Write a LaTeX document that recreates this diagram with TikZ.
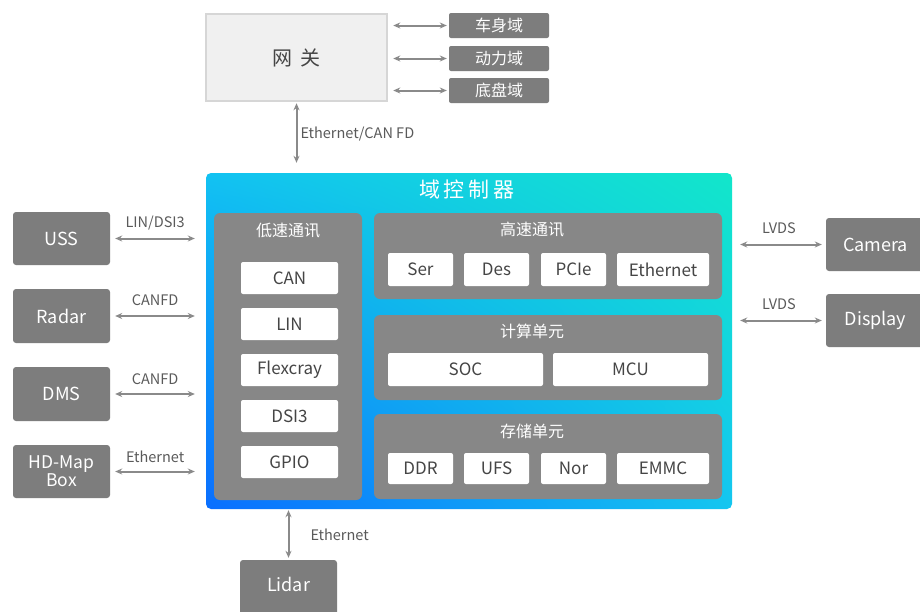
\documentclass[tikz,border=0pt]{standalone}
\usepackage{fontspec}
\setmainfont{Noto Sans CJK SC}
\usetikzlibrary{arrows.meta,shadings}
\definecolor{boxgray}{HTML}{7D7D7D}
\definecolor{panelgray}{HTML}{878787}
\definecolor{arrowgray}{HTML}{8A8A8A}
\definecolor{labelgray}{HTML}{5A5A5A}
\definecolor{textdark}{HTML}{454545}
\definecolor{gwfill}{HTML}{F0F0F0}
\definecolor{gwline}{HTML}{D6D6D6}
\definecolor{cUL}{HTML}{12C2F2}
\definecolor{cUR}{HTML}{12E6CA}
\definecolor{cLL}{HTML}{0A6EFF}
\definecolor{cLR}{HTML}{14C6F0}
\begin{document}
\begin{tikzpicture}[x=1pt,y=-1pt,
  obox/.style={fill=boxgray, rounded corners=3pt, text=white, font=\fontsize{18}{19}\selectfont, inner sep=0pt, align=center},
  dbox/.style={fill=boxgray, rounded corners=2pt, text=white, font=\fontsize{16}{18}\selectfont, inner sep=0pt, minimum width=100pt, minimum height=25pt},
  panel/.style={fill=panelgray, rounded corners=6pt, inner sep=0pt},
  wbox/.style={fill=white, rounded corners=2pt, text=textdark, font=\fontsize{17}{19}\selectfont, inner sep=0pt},
  ptitle/.style={text=white, font=\fontsize{16}{18}\selectfont, inner sep=0pt},
  conn/.style={draw=arrowgray, line width=2pt, {Stealth[length=7pt,width=6pt]}-{Stealth[length=7pt,width=6pt]}},
  lbl/.style={text=labelgray, font=\fontsize{14.5}{16}\selectfont, inner sep=1pt},
]
\clip (0,0) rectangle (920,611);
\fill[white] (0,0) rectangle (920,611);

% gateway and domains
\node[fill=gwfill, draw=gwline, line width=2.5pt, minimum width=181pt, minimum height=87pt,
      font=\fontsize{20}{22}\selectfont, text=textdark, inner sep=0pt] (gw) at (296.5,57.5) {网\hspace{8pt}关};
\node[dbox] (d1) at (499,25.5) {车身域};
\node[dbox] (d2) at (499,58.5) {动力域};
\node[dbox] (d3) at (499,90.5) {底盘域};

% domain controller
\node[rounded corners=5pt, shade, upper left=cUL, upper right=cUR, lower left=cLL, lower right=cLR,
      minimum width=526pt, minimum height=336pt, inner sep=0pt] (ctrl) at (469,341) {};
\node[ptitle, font=\fontsize{21}{24}\selectfont] (ctitle) at (467,190) {域\hspace{4pt}控\hspace{4pt}制\hspace{4pt}器};

% low speed panel
\node[panel, minimum width=148pt, minimum height=287pt] (low) at (288,356.5) {};
\node[ptitle] (lowt) at (288,231) {低速通讯};
\node[wbox, minimum width=97pt, minimum height=32pt] (can) at (289.5,278) {CAN};
\node[wbox, minimum width=97pt, minimum height=32pt] (lin) at (289.5,324) {LIN};
\node[wbox, minimum width=97pt, minimum height=32pt] (flex) at (289.5,370) {Flexcray};
\node[wbox, minimum width=97pt, minimum height=32pt] (dsi) at (289.5,416) {DSI3};
\node[wbox, minimum width=97pt, minimum height=32pt] (gpio) at (289.5,462) {GPIO};

% high speed panel
\node[panel, minimum width=348pt, minimum height=86pt] (high) at (548,256) {};
\node[ptitle] (hight) at (532,230) {高速通讯};
\node[wbox, minimum width=65pt, minimum height=33pt] (ser) at (420.5,269.5) {Ser};
\node[wbox, minimum width=65pt, minimum height=33pt] (des) at (496.5,269.5) {Des};
\node[wbox, minimum width=65pt, minimum height=33pt] (pcie) at (573.5,269.5) {PCIe};
\node[wbox, minimum width=92pt, minimum height=33pt] (eth) at (663,269.5) {Ethernet};

% compute panel
\node[panel, minimum width=348pt, minimum height=85pt] (comp) at (548,357.5) {};
\node[ptitle] (compt) at (532,331) {计算单元};
\node[wbox, minimum width=155pt, minimum height=33pt] (soc) at (465.5,369.5) {SOC};
\node[wbox, minimum width=155pt, minimum height=33pt] (mcu) at (630.5,369.5) {MCU};

% storage panel
\node[panel, minimum width=348pt, minimum height=85pt] (stor) at (548,456.5) {};
\node[ptitle] (stort) at (532,431) {存储单元};
\node[wbox, minimum width=65pt, minimum height=31pt] (ddr) at (420.5,468.5) {DDR};
\node[wbox, minimum width=65pt, minimum height=31pt] (ufs) at (496.5,468.5) {UFS};
\node[wbox, minimum width=65pt, minimum height=31pt] (nor) at (573.5,468.5) {Nor};
\node[wbox, minimum width=92pt, minimum height=31pt] (emmc) at (663,468.5) {EMMC};

% left peripherals
\node[obox, minimum width=97pt, minimum height=53pt] (uss) at (61.5,238.5) {USS};
\node[obox, minimum width=97pt, minimum height=54pt] (radar) at (61.5,316) {Radar};
\node[obox, minimum width=97pt, minimum height=54pt] (dms) at (61.5,394) {DMS};
\node[obox, minimum width=97pt, minimum height=53pt, font=\fontsize{17.5}{18}\selectfont] (hd) at (61.5,471.5) {HD-Map\\Box};

% right peripherals
\node[obox, minimum width=99pt, minimum height=53pt] (cam) at (875.5,244.5) {Camera};
\node[obox, minimum width=99pt, minimum height=53pt] (disp) at (875.5,320.5) {Display};

% bottom
\node[obox, minimum width=97pt, minimum height=62pt, text depth=14pt] (lidar) at (288.5,591) {Lidar};

% connectors
\draw[conn, shorten <=5pt, shorten >=2pt] (gw.east |- d1.west) -- (d1.west);
\draw[conn, shorten <=5pt, shorten >=2pt] (gw.east |- d2.west) -- (d2.west);
\draw[conn, shorten <=5pt, shorten >=2pt] (gw.east |- d3.west) -- (d3.west);
\draw[conn, shorten <=1pt, shorten >=10pt] (gw.south) -- (gw.south |- ctrl.north)
  node[lbl, pos=0.45, anchor=west, xshift=2pt] {Ethernet/CAN FD};

\draw[conn, shorten <=5pt, shorten >=11pt] (uss.east) -- (uss.east -| ctrl.west)
  node[lbl, pos=0.47, yshift=15pt] {LIN/DSI3};
\draw[conn, shorten <=5pt, shorten >=11pt] (radar.east) -- (radar.east -| ctrl.west)
  node[lbl, pos=0.47, yshift=16pt] {CANFD};
\draw[conn, shorten <=5pt, shorten >=11pt] (dms.east) -- (dms.east -| ctrl.west)
  node[lbl, pos=0.47, yshift=15pt] {CANFD};
\draw[conn, shorten <=5pt, shorten >=11pt] (hd.east) -- (hd.east -| ctrl.west)
  node[lbl, pos=0.47, yshift=15pt] {Ethernet};

\draw[conn, shorten <=8pt, shorten >=4pt] (cam.west -| ctrl.east) -- (cam.west)
  node[lbl, midway, yshift=16pt] {LVDS};
\draw[conn, shorten <=8pt, shorten >=4pt] (disp.west -| ctrl.east) -- (disp.west)
  node[lbl, midway, yshift=16pt] {LVDS};

\draw[conn, shorten <=1pt, shorten >=2pt] (lidar.north |- ctrl.south) -- (lidar.north)
  node[lbl, midway, anchor=west, xshift=20pt] {Ethernet};
\end{tikzpicture}
\end{document}
